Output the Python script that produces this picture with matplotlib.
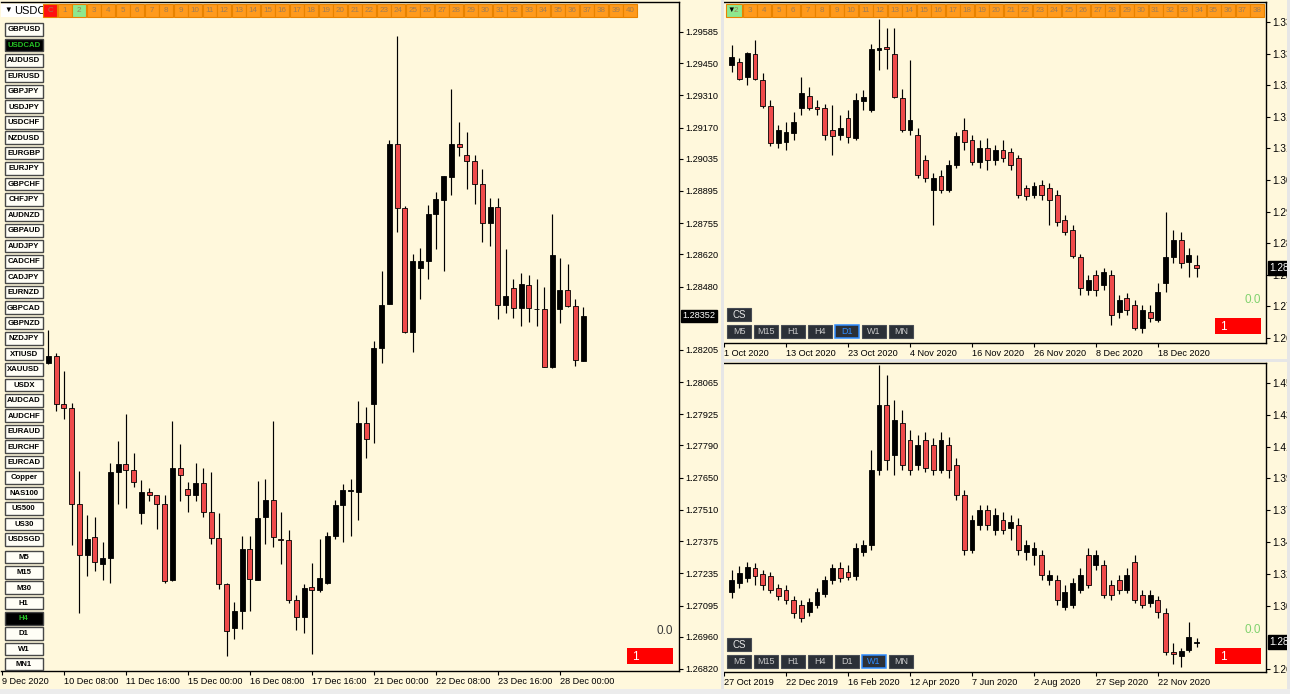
import matplotlib
matplotlib.use("Agg")
import matplotlib.pyplot as plt
from matplotlib.patches import Rectangle
import numpy as np

plt.rcParams["font.family"] = ["Liberation Sans", "DejaVu Sans"]

# ---------------- data ----------------
# USDCAD H4 (left window)
h4_open = [1.28147, 1.28180, 1.27971, 1.27952, 1.27535, 1.27314, 1.27392, 1.27277, 1.27303, 1.27674,
           1.27711, 1.27683, 1.27497, 1.27588, 1.27573, 1.27535, 1.27206, 1.27694, 1.27603, 1.27577,
           1.27627, 1.27503, 1.27388, 1.27188, 1.26998, 1.27071, 1.27342, 1.27206, 1.27481, 1.27553,
           1.27384, 1.27379, 1.27119, 1.27045, 1.27175, 1.27163, 1.27191, 1.27395, 1.27531, 1.27592,
           1.27587, 1.27889, 1.27972, 1.28214, 1.28403, 1.29099, 1.28821, 1.28282, 1.28561, 1.28589,
           1.28793, 1.28854, 1.28954, 1.29099, 1.29053, 1.29025, 1.28926, 1.28756, 1.28826, 1.28399,
           1.28474, 1.28388, 1.28487, 1.28381, 1.28381, 1.28130, 1.28381, 1.28464, 1.28397, 1.28158]
h4_high = [1.28292, 1.28193, 1.28112, 1.27976, 1.27679, 1.27488, 1.27479, 1.27369, 1.27713, 1.27809,
           1.27926, 1.27759, 1.27638, 1.27607, 1.27573, 1.27573, 1.27896, 1.27796, 1.27633, 1.27716,
           1.27692, 1.27674, 1.27499, 1.27191, 1.27110, 1.27395, 1.27397, 1.27637, 1.27646, 1.27898,
           1.27503, 1.27425, 1.27141, 1.27188, 1.27280, 1.27382, 1.27416, 1.27555, 1.27624, 1.27646,
           1.27985, 1.27958, 1.28242, 1.28548, 1.29114, 1.29568, 1.28830, 1.28622, 1.28648, 1.28834,
           1.28889, 1.28960, 1.29336, 1.29192, 1.29151, 1.29049, 1.28988, 1.28863, 1.28863, 1.28644,
           1.28514, 1.28538, 1.28529, 1.28511, 1.28477, 1.28796, 1.28603, 1.28576, 1.28425, 1.28390]
h4_low = [1.28143, 1.27939, 1.27906, 1.27358, 1.27063, 1.27225, 1.27247, 1.27206, 1.27191, 1.27536,
          1.27518, 1.27609, 1.27447, 1.27549, 1.27429, 1.27195, 1.27202, 1.27549, 1.27503, 1.27549,
          1.27481, 1.27362, 1.27169, 1.26876, 1.26950, 1.26993, 1.27071, 1.27206, 1.27364, 1.27351,
          1.27277, 1.27108, 1.26989, 1.26974, 1.26885, 1.27156, 1.27188, 1.27382, 1.27373, 1.27397,
          1.27466, 1.27735, 1.27800, 1.28147, 1.28403, 1.28718, 1.28277, 1.28195, 1.28427, 1.28511,
          1.28644, 1.28548, 1.28876, 1.29047, 1.28904, 1.28839, 1.28672, 1.28654, 1.28338, 1.28366,
          1.28344, 1.28310, 1.28325, 1.28310, 1.28130, 1.28125, 1.28323, 1.28390, 1.28134, 1.28158]
h4_close = [1.28177, 1.27971, 1.27952, 1.27535, 1.27314, 1.27384, 1.27284, 1.27303, 1.27674, 1.27711,
            1.27683, 1.27633, 1.27590, 1.27577, 1.27535, 1.27202, 1.27694, 1.27661, 1.27577, 1.27627,
            1.27503, 1.27388, 1.27188, 1.26983, 1.27071, 1.27340, 1.27210, 1.27475, 1.27553, 1.27392,
            1.27379, 1.27119, 1.27045, 1.27173, 1.27162, 1.27215, 1.27395, 1.27531, 1.27596, 1.27596,
            1.27889, 1.27818, 1.28214, 1.28399, 1.29099, 1.28821, 1.28282, 1.28589, 1.28592, 1.28793,
            1.28858, 1.28960, 1.29099, 1.29084, 1.29025, 1.28926, 1.28756, 1.28826, 1.28399, 1.28440,
            1.28388, 1.28490, 1.28388, 1.28384, 1.28130, 1.28616, 1.28464, 1.28397, 1.28162, 1.28352]
h4_ticks = [1.29585, 1.29450, 1.29310, 1.29170, 1.29035, 1.28895, 1.28755, 1.28620, 1.28480, 1.28205,
            1.28065, 1.27925, 1.27790, 1.27650, 1.27510, 1.27375, 1.27235, 1.27095, 1.26960, 1.26820]
h4_dates = ["9 Dec 2020", "10 Dec 08:00", "11 Dec 16:00", "15 Dec 00:00", "16 Dec 08:00",
            "17 Dec 16:00", "21 Dec 00:00", "22 Dec 08:00", "23 Dec 16:00", "28 Dec 00:00"]

# USDCAD D1 (top right window)
d1_open = [1.32913, 1.32981, 1.32644, 1.33161, 1.32576, 1.31992, 1.31161, 1.31183, 1.31385, 1.31947,
           1.32217, 1.31970, 1.31947, 1.31453, 1.31341, 1.31723, 1.31273, 1.32105, 1.31902, 1.33250,
           1.33318, 1.33161, 1.32172, 1.31453, 1.31341, 1.30779, 1.30105, 1.30419, 1.30105, 1.30666,
           1.31453, 1.31228, 1.30734, 1.31048, 1.30779, 1.31003, 1.30959, 1.30824, 1.30150, 1.29992,
           1.30217, 1.30150, 1.29992, 1.29431, 1.29206, 1.28599, 1.27858, 1.28195, 1.27970, 1.28195,
           1.27363, 1.27678, 1.27521, 1.27004, 1.27363, 1.27184, 1.28015, 1.28599, 1.28981, 1.28487,
           1.28419]
d1_high = [1.33363, 1.33071, 1.33206, 1.33475, 1.32734, 1.32127, 1.31565, 1.31633, 1.31857, 1.32644,
           1.32419, 1.32127, 1.32037, 1.32015, 1.31790, 1.31902, 1.32284, 1.32352, 1.33385, 1.33947,
           1.33745, 1.33745, 1.32374, 1.33026, 1.31498, 1.30891, 1.30487, 1.30554, 1.30779, 1.31408,
           1.31723, 1.31341, 1.31228, 1.31273, 1.31116, 1.31228, 1.31048, 1.30891, 1.30217, 1.30284,
           1.30329, 1.30262, 1.30105, 1.29543, 1.29318, 1.28667, 1.28195, 1.28307, 1.28352, 1.28307,
           1.27745, 1.27790, 1.27633, 1.27521, 1.27521, 1.28015, 1.29610, 1.29206, 1.29161, 1.28801,
           1.28644]
d1_low = [1.32756, 1.32576, 1.32464, 1.32576, 1.31947, 1.31093, 1.31048, 1.31003, 1.31228, 1.31790,
          1.31902, 1.31790, 1.31228, 1.30891, 1.31228, 1.31161, 1.31228, 1.31902, 1.31857, 1.32801,
          1.32824, 1.32172, 1.31408, 1.31341, 1.30374, 1.30284, 1.29318, 1.30037, 1.30060, 1.30599,
          1.31003, 1.30666, 1.30599, 1.30554, 1.30666, 1.30734, 1.30554, 1.29925, 1.29880, 1.29925,
          1.29880, 1.29318, 1.29296, 1.29094, 1.28577, 1.27745, 1.27745, 1.27723, 1.27858, 1.27071,
          1.27228, 1.27296, 1.26959, 1.26891, 1.27139, 1.27139, 1.27813, 1.28464, 1.28352, 1.28150,
          1.28150]
d1_close = [1.33093, 1.32599, 1.33183, 1.32599, 1.31992, 1.31161, 1.31453, 1.31408, 1.31633, 1.32284,
            1.31947, 1.31925, 1.31341, 1.31318, 1.31498, 1.31296, 1.32127, 1.32194, 1.33273, 1.33295,
            1.33273, 1.32194, 1.31453, 1.31678, 1.30442, 1.30374, 1.30374, 1.30105, 1.30666, 1.31318,
            1.31183, 1.30734, 1.31048, 1.30779, 1.31003, 1.30824, 1.30666, 1.29992, 1.29970, 1.30195,
            1.29992, 1.29880, 1.29386, 1.29161, 1.28622, 1.27903, 1.28082, 1.27858, 1.28262, 1.27296,
            1.27633, 1.27408, 1.27004, 1.27408, 1.27228, 1.27813, 1.28599, 1.28981, 1.28464, 1.28644,
            1.28352]
d1_ticks = [1.33880, 1.33170, 1.32460, 1.31750, 1.31040, 1.30330, 1.29620, 1.28910, 1.28200,
            1.27490, 1.26780]
d1_dates = ["1 Oct 2020", "13 Oct 2020", "23 Oct 2020", "4 Nov 2020", "16 Nov 2020",
            "26 Nov 2020", "8 Dec 2020", "18 Dec 2020"]

# USDCAD W1 (bottom right window)
w1_open = [1.31659, 1.32254, 1.32584, 1.33246, 1.32849, 1.32717, 1.31923, 1.31791, 1.31129, 1.30799,
           1.30336, 1.30799, 1.31526, 1.32452, 1.33246, 1.32981, 1.32717, 1.34304, 1.34767, 1.39726,
           1.44025, 1.40718, 1.42834, 1.41710, 1.40057, 1.41710, 1.41380, 1.39726, 1.41380, 1.40057,
           1.38073, 1.34436, 1.36089, 1.37081, 1.35759, 1.36420, 1.35891, 1.36089, 1.34304, 1.34105,
           1.34105, 1.32452, 1.32452, 1.30667, 1.30799, 1.31791, 1.34105, 1.33444, 1.33444, 1.32121,
           1.32452, 1.31791, 1.33642, 1.31460, 1.30931, 1.31129, 1.30270, 1.27691, 1.27426, 1.27823,
           1.28286]
w1_high = [1.33113, 1.33378, 1.33642, 1.33576, 1.33113, 1.32981, 1.32188, 1.32121, 1.31394, 1.31129,
           1.31262, 1.31923, 1.32717, 1.33510, 1.33642, 1.33444, 1.34899, 1.35097, 1.41049, 1.46670,
           1.46009, 1.44355, 1.43694, 1.42372, 1.42041, 1.42239, 1.41843, 1.42239, 1.41909, 1.40520,
           1.38404, 1.36751, 1.37412, 1.37412, 1.37213, 1.36949, 1.36751, 1.36552, 1.35097, 1.34965,
           1.34436, 1.33113, 1.32783, 1.32121, 1.32584, 1.33246, 1.34568, 1.34436, 1.33775, 1.32452,
           1.32783, 1.33246, 1.34105, 1.31791, 1.31791, 1.31394, 1.30600, 1.28286, 1.27954, 1.29675,
           1.28617]
w1_low = [1.31262, 1.31923, 1.32320, 1.32121, 1.31791, 1.31592, 1.31129, 1.30865, 1.29939, 1.29675,
          1.30071, 1.30600, 1.31328, 1.32188, 1.32320, 1.32452, 1.32452, 1.34039, 1.34436, 1.39396,
          1.39726, 1.39396, 1.39726, 1.39396, 1.39726, 1.39594, 1.39396, 1.39528, 1.39197, 1.37742,
          1.34105, 1.34238, 1.35759, 1.35759, 1.35428, 1.35494, 1.35097, 1.34105, 1.33775, 1.33444,
          1.32452, 1.32121, 1.30799, 1.30468, 1.30600, 1.31592, 1.31923, 1.33113, 1.31262, 1.31129,
          1.31526, 1.31592, 1.30931, 1.30600, 1.30667, 1.29939, 1.27492, 1.26897, 1.26699, 1.27691,
          1.28021]
w1_close = [1.32452, 1.32915, 1.33312, 1.32717, 1.32121, 1.31791, 1.31394, 1.31129, 1.30270, 1.29939,
            1.30997, 1.31659, 1.32452, 1.33246, 1.32584, 1.32650, 1.34568, 1.34767, 1.39726, 1.44025,
            1.40388, 1.43033, 1.40057, 1.39726, 1.41380, 1.39859, 1.39726, 1.41710, 1.39726, 1.38073,
            1.34436, 1.36420, 1.37081, 1.36089, 1.36751, 1.35759, 1.36288, 1.34436, 1.34767, 1.34568,
            1.32783, 1.32783, 1.31129, 1.31659, 1.32254, 1.32783, 1.32121, 1.34105, 1.31460, 1.31460,
            1.31791, 1.32783, 1.31129, 1.30799, 1.31460, 1.30336, 1.27691, 1.27558, 1.27757, 1.28683,
            1.28352]
w1_ticks = [1.45480, 1.43377, 1.41274, 1.39171, 1.37068, 1.34965, 1.32862, 1.30759, 1.26553]
w1_dates = ["27 Oct 2019", "22 Dec 2019", "16 Feb 2020", "12 Apr 2020", "7 Jun 2020",
            "2 Aug 2020", "27 Sep 2020", "22 Nov 2020"]

symbols = ["GBPUSD", "USDCAD", "AUDUSD", "EURUSD", "GBPJPY", "USDJPY", "USDCHF", "NZDUSD",
           "EURGBP", "EURJPY", "GBPCHF", "CHFJPY", "AUDNZD", "GBPAUD", "AUDJPY", "CADCHF",
           "CADJPY", "EURNZD", "GBPCAD", "GBPNZD", "NZDJPY", "XTIUSD", "XAUUSD", "USDX",
           "AUDCAD", "AUDCHF", "EURAUD", "EURCHF", "EURCAD", "Copper", "NAS100", "US500",
           "US30", "USDSGD"]
periods = ["M5", "M15", "M30", "H1", "H4", "D1", "W1", "MN1"]
small_periods = ["M5", "M15", "H1", "H4", "D1", "W1", "MN"]
last_price = 1.28352

# ---------------- figure ----------------
W, H = 1290, 694
CREAM = "#fff8dc"
RED = "#ef4b4b"
ORANGE = "#ff9a1c"

fig = plt.figure(figsize=(W / 100, H / 100), dpi=100)
fig.patch.set_facecolor("#ececec")


def px_axes(x0, y0, x1, y1, z=0):
    return fig.add_axes([x0 / W, 1 - y1 / H, (x1 - x0) / W, (y1 - y0) / H], zorder=z)


bg = px_axes(0, 0, W, H, z=-10)
bg.set_xlim(0, W)
bg.set_ylim(H, 0)
bg.axis("off")
for x0, y0, x1, y1 in [(0, 0, 721, 689), (724, 0, 1287, 359), (724, 362, 1287, 689)]:
    bg.add_patch(Rectangle((x0, y0), x1 - x0, y1 - y0, fc=CREAM, ec="none"))


def candle_chart(box, xlim, ylim, o, h, l, c, ticks, dates, first_tick, fs):
    ax = px_axes(*box)
    ax.set_facecolor(CREAM)
    o, h, l, c = map(np.asarray, (o, h, l, c))
    x = np.arange(len(o))
    up = c >= o
    lo = np.minimum(o, c)
    hgt = np.abs(c - o)
    ax.vlines(x, l, h, color="black", lw=0.85, zorder=2)
    ax.bar(x[up], hgt[up], bottom=lo[up], width=0.64, color="black",
           edgecolor="black", lw=0.6, zorder=3)
    ax.bar(x[~up], hgt[~up], bottom=lo[~up], width=0.64, color=RED,
           edgecolor="black", lw=0.6, zorder=3)
    ax.set_xlim(*xlim)
    ax.set_ylim(*ylim)
    ax.yaxis.tick_right()
    ax.set_yticks(ticks)
    ax.set_yticklabels(["%.5f" % t for t in ticks])
    ax.set_xticks([first_tick + 8 * k for k in range(len(dates))])
    ax.set_xticklabels(dates, ha="left")
    ax.tick_params(axis="both", labelsize=6.6, length=3, width=0.8, pad=1.5, colors="black")
    ax.tick_params(axis="y", labelsize=fs)
    ax.spines["left"].set_visible(False)
    for s in ("top", "right", "bottom"):
        ax.spines[s].set_linewidth(1.0)
    ax.annotate("%.5f" % last_price, xy=(1, last_price), xycoords=("axes fraction", "data"),
                xytext=(2.5, 0), textcoords="offset points", ha="left", va="center",
                fontsize=fs, color="white", annotation_clip=False,
                bbox=dict(boxstyle="square,pad=0.18", fc="black", ec="black"))
    return ax


candle_chart((1, 2, 679, 671), (-6.103, 81.38), (1.26811, 1.29715),
             h4_open, h4_high, h4_low, h4_close, h4_ticks, h4_dates, -6, 6.6)
candle_chart((724, 2, 1266, 343), (-1.0, 68.94), (1.26667, 1.34329),
             d1_open, d1_high, d1_low, d1_close, d1_ticks, d1_dates, -1, 7.2)
candle_chart((724, 363, 1266, 672), (-1.0, 68.94), (1.26368, 1.46802),
             w1_open, w1_high, w1_low, w1_close, w1_ticks, w1_dates, -1, 7.2)

# ---------------- overlay (terminal widgets) ----------------
ov = px_axes(0, 0, W, H, z=10)
ov.set_xlim(0, W)
ov.set_ylim(H, 0)
ov.axis("off")
ov.patch.set_visible(False)

# left top bar
ov.add_patch(Rectangle((1, 3.5), 42, 13.5, fc="white", ec="none", zorder=1))
ov.text(4, 10.5, "▼", fontsize=5.5, va="center", ha="left", color="black", zorder=2)
ov.text(14, 10.5, "USDC", fontsize=8, va="center", ha="left", color="black", zorder=2)
for n in range(41):
    x0 = 43.3 + 14.5 * n
    fc = "#ff1010" if n == 0 else ("#8ee88e" if n == 2 else ORANGE)
    ov.add_patch(Rectangle((x0, 3.5), 13.8, 13.5, fc=fc, ec="#e88300", lw=0.8, zorder=4))
    ov.text(x0 + 6.9, 10.6, "C" if n == 0 else str(n), fontsize=5.8, ha="center",
            va="center", color="#a07d55", zorder=5)

# right top bar
ov.add_patch(Rectangle((726, 3.5), 15.5, 13.5, fc="#8ee88e", ec="#e88300", lw=0.8, zorder=4))
ov.text(735.5, 10.6, "2", fontsize=5.8, ha="center", va="center", color="#a07d55", zorder=5)
ov.text(727, 10.2, "▼", fontsize=5.5, ha="left", va="center", color="black", zorder=5)
for n in range(3, 39):
    x0 = 742.7 + 14.5 * (n - 3)
    ov.add_patch(Rectangle((x0, 3.5), 13.8, 13.5, fc=ORANGE, ec="#e88300", lw=0.8, zorder=4))
    ov.text(x0 + 6.9, 10.6, str(n), fontsize=5.8, ha="center", va="center",
            color="#a07d55", zorder=5)


def light_button(yc, label, active):
    ov.add_patch(Rectangle((4.5, yc - 6.3), 38.5, 12.6, fc="black" if active else "#fffef6",
                           ec="#474747", lw=1.0, zorder=4))
    ov.text(23.8, yc + 0.4, label, ha="center", va="center", fontsize=5.6,
            fontweight="bold", color="#25c025" if active else "black", zorder=5)


for i, s in enumerate(symbols):
    light_button(29.5 + 15.45 * i, s, s == "USDCAD")
for j, p in enumerate(periods):
    light_button(557 + 15.3 * j, p, p == "H4")


def dark_buttons(y_cs, y_row, active):
    ov.add_patch(Rectangle((727, y_cs), 24, 13, fc="#2b3037", ec="#474c54", lw=0.8, zorder=4))
    ov.text(739, y_cs + 6.8, "CS", color="#e6e6e6", fontsize=7, ha="center", va="center",
            zorder=5)
    for k, p in enumerate(small_periods):
        x0 = 727 + 27 * k
        on = p == active
        ov.add_patch(Rectangle((x0, y_row), 24, 13, fc="#2b3037",
                               ec="#2f8cff" if on else "#474c54", lw=1.1 if on else 0.8,
                               zorder=4))
        ov.text(x0 + 12, y_row + 6.8, p, color="#2f8cff" if on else "#c9c9c9",
                fontsize=6.5, ha="center", va="center", zorder=5)


dark_buttons(308, 325, "D1")
dark_buttons(638, 655, "W1")

# spread / counter widgets
ov.text(673, 631, "0.0", fontsize=8.5, ha="right", va="center", color="#3a3a3a", zorder=5)
for (xr, yz) in [(1261, 300), (1261, 630)]:
    ov.text(xr, yz, "0.0", fontsize=8.5, ha="right", va="center", color="#80d26e", zorder=5)
for (xr, yb) in [(673, 648), (1261, 318), (1261, 648)]:
    ov.add_patch(Rectangle((xr - 46, yb), 46, 16, fc="#ff0000", ec="none", zorder=4))
    ov.text(xr - 41, yb + 8.5, "1", fontsize=8.5, ha="left", va="center", color="white",
            zorder=5)

# window borders
ov.add_patch(Rectangle((721, 0), 3, H, fc="#e6e6e6", ec="none", zorder=6))
ov.add_patch(Rectangle((1287, 0), 3, H, fc="#e6e6e6", ec="none", zorder=6))
ov.add_patch(Rectangle((724, 359), 563, 3, fc="#e6e6e6", ec="none", zorder=6))
ov.add_patch(Rectangle((0, 689), W, 5, fc="#ececec", ec="none", zorder=6))

fig.savefig("out.png", dpi=100)
